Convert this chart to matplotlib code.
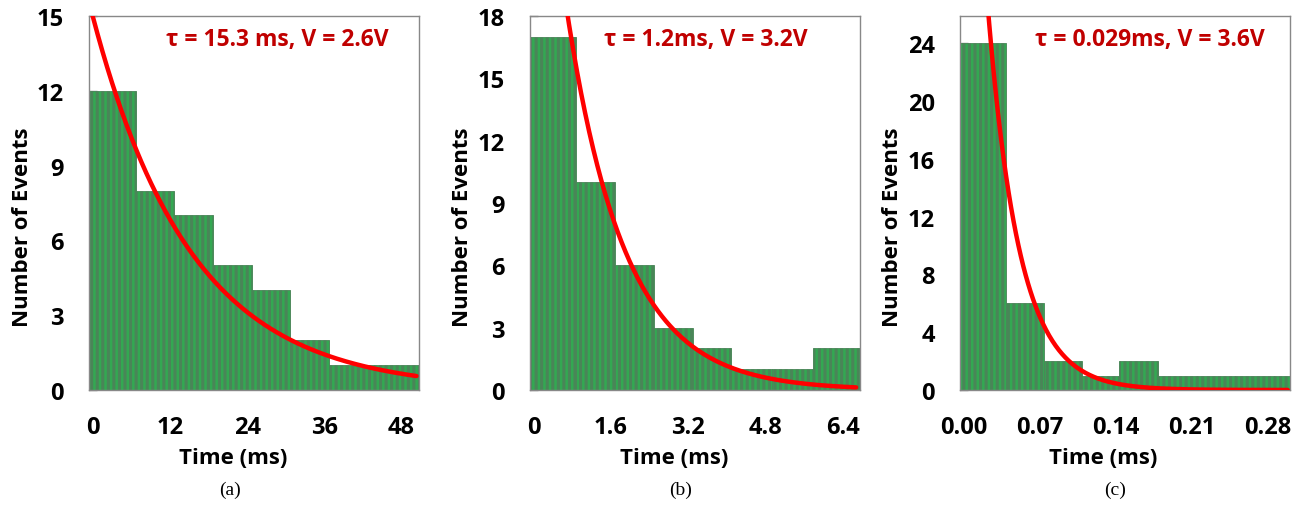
import numpy as np
import matplotlib
matplotlib.use("Agg")
import matplotlib.pyplot as plt

plt.rcParams['font.family'] = ['Open Sans', 'DejaVu Sans']
plt.rcParams['hatch.linewidth'] = 2.2

# ---- data ----
# panel (a)
edges_a = [-0.57, 6.67, 12.7, 18.7, 24.8, 30.7, 36.7, 43.7, 50.7]
counts_a = [12, 8, 7, 5, 4, 2, 1, 1]
ticks_a = [0, 12, 24, 36, 48]
ticklabels_a = ['0', '12', '24', '36', '48']
yticks_a = [0, 3, 6, 9, 12, 15]
ylim_a = 15
tau_a, amp_a, fit_start_a, fit_end_a = 15.3, 15.0, 0.0, 50.3
label_a = 'τ = 15.3 ms, V = 2.6V'

# panel (b)
edges_b = [-0.07, 0.89, 1.69, 2.49, 3.29, 4.09, 4.93, 5.77, 6.75]
counts_b = [17, 10, 6, 3, 2, 1, 1, 2]
ticks_b = [0, 1.6, 3.2, 4.8, 6.4]
ticklabels_b = ['0', '1.6', '3.2', '4.8', '6.4']
yticks_b = [0, 3, 6, 9, 12, 15, 18]
ylim_b = 18
tau_b, amp_b, fit_start_b, fit_end_b = 1.2, 32.5, 0.0, 6.67
label_b = 'τ = 1.2ms, V = 3.2V'

# panel (c)
edges_c = [-0.0037, 0.0386, 0.0737, 0.109, 0.1425, 0.179, 0.215, 0.25, 0.2855, 0.3006]
counts_c = [24, 6, 2, 1, 2, 1, 1, 1, 1]
ticks_c = [0.0, 0.07, 0.14, 0.21, 0.28]
ticklabels_c = ['0.00', '0.07', '0.14', '0.21', '0.28']
yticks_c = [0, 4, 8, 12, 16, 20, 24]
ylim_c = 25.9
tau_c, amp_c, fit_start_c, fit_end_c = 0.029, 56.5, 0.0, 0.2985
label_c = 'τ = 0.029ms, V = 3.6V'

captions = ['(a)', '(b)', '(c)']

W, H = 1303, 506
fig = plt.figure(figsize=(W / 100, H / 100), dpi=100)

panels = [
    (89, edges_a, counts_a, ticks_a, ticklabels_a, yticks_a, ylim_a, tau_a, amp_a, fit_start_a, fit_end_a, label_a, 230, 233, 277),
    (530, edges_b, counts_b, ticks_b, ticklabels_b, yticks_b, ylim_b, tau_b, amp_b, fit_start_b, fit_end_b, label_b, 681, 674, 706),
    (960, edges_c, counts_c, ticks_c, ticklabels_c, yticks_c, ylim_c, tau_c, amp_c, fit_start_c, fit_end_c, label_c, 1115, 1103, 1150),
]

green = '#33a852'
stripe = '#4a8558'
red = '#ff0000'
darkred = '#c00000'

for i, (left, edges, counts, ticks, tlabels, yticks, ylim, tau, amp, fs, fe, lab, capx, xlx, labx) in enumerate(panels):
    ax = fig.add_axes([left / W, (H - 391) / H, 330 / W, 374 / H])
    edges = np.array(edges)
    widths = np.diff(edges)
    ax.bar(edges[:-1], counts, width=widths, align='edge', color=green,
           edgecolor=stripe, linewidth=0.6, hatch='|||', zorder=2)
    xs = np.linspace(fs, fe, 400)
    ax.plot(xs, amp * np.exp(-xs / tau), color=red, lw=3.2, zorder=3,
            solid_capstyle='round', clip_on=True)
    ax.set_xlim(edges[0], edges[-1])
    ax.set_ylim(0, ylim)
    ax.set_xticks(ticks)
    ax.set_xticklabels(tlabels)
    ax.set_yticks(yticks)
    ax.tick_params(axis='x', length=0, pad=18, labelsize=17)
    ax.tick_params(axis='y', direction='in', length=6, width=1, color='#888888',
                   pad=18, labelsize=17)
    for lbl in ax.get_xticklabels() + ax.get_yticklabels():
        lbl.set_fontweight('bold')
    for s in ax.spines.values():
        s.set_color('#888888')
        s.set_linewidth(1.0)
    ax.set_ylabel('Number of Events', fontsize=16, fontweight='bold', va='center')
    ax.yaxis.set_label_coords(-67 / 330, (391 - 227) / 374)
    ax.set_xlabel('Time (ms)', fontsize=16, fontweight='bold', va='center')
    ax.xaxis.set_label_coords((xlx - left) / 330, (391 - 459) / 374)
    ax.text((labx - left) / 330, (391 - 40) / 374, lab, transform=ax.transAxes,
            ha='center', va='center', color=darkred, fontsize=16.5,
            fontweight='bold', zorder=4)
    fig.text(capx / W, 1 - 490 / H, captions[i], ha='center', va='center',
             fontsize=14, family='Liberation Serif')

fig.savefig('out.png', dpi=100)
